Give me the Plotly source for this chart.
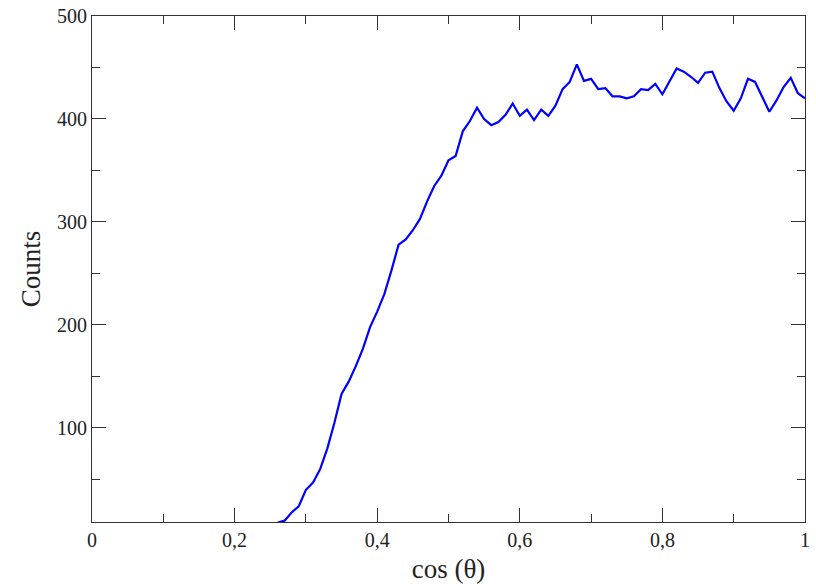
import plotly.graph_objects as go

cos_theta = [round(0.26 + 0.01 * i, 2) for i in range(75)]
counts = [8, 10, 18, 24, 40, 47, 60, 80, 105, 133,
          145, 160, 177, 198, 213, 230, 253, 278, 283, 292,
          303, 320, 335, 345, 360, 364, 388, 398, 411, 400,
          394, 397, 404, 415, 403, 409, 399, 409, 403, 413,
          429, 436, 453, 437, 439, 429, 430, 422, 422, 420,
          422, 429, 428, 434, 424, 437, 449, 446, 441, 435,
          445, 446, 430, 417, 408, 420, 439, 436, 422, 407,
          418, 431, 440, 425, 420]

x_ticks = [0, 0.2, 0.4, 0.6, 0.8, 1]
x_ticktext = ["0", "0,2", "0,4", "0,6", "0,8", "1"]
y_ticks = [100, 200, 300, 400, 500]

fig = go.Figure()
fig.add_trace(go.Scatter(x=cos_theta, y=counts, mode="lines",
                         line=dict(color="#0000ff", width=2.2)))

font = "Liberation Serif, Times New Roman, serif"
axis_common = dict(
    showgrid=False, zeroline=False, showline=True, linecolor="#333333",
    linewidth=1, mirror="allticks", ticks="inside", ticklen=14,
    tickcolor="#333333", tickwidth=1, automargin=False,
    tickfont=dict(family=font, size=20, color="#222222"),
)

fig.update_layout(
    width=816, height=584,
    margin=dict(l=92, r=11, t=16, b=62, autoexpand=False),
    paper_bgcolor="white", plot_bgcolor="white",
    showlegend=False,
    font=dict(family=font, color="#222222"),
    xaxis=dict(range=[0, 1], tickvals=x_ticks, ticktext=x_ticktext,
               minor=dict(dtick=0.1, tick0=0, ticks="inside", ticklen=8,
                          tickcolor="#333333"),
               title=dict(text="cos (θ)", font=dict(family=font, size=27),
                          standoff=10),
               **axis_common),
    yaxis=dict(range=[8.7, 500], tickvals=y_ticks,
               minor=dict(dtick=50, tick0=0, ticks="inside", ticklen=8,
                          tickcolor="#333333"),
               title=dict(text="Counts", font=dict(family=font, size=27),
                          standoff=8),
               **axis_common),
)

fig.write_html("out.html", config={"displayModeBar": False},
               post_script="document.body.style.margin='0';document.body.style.overflow='hidden';")
